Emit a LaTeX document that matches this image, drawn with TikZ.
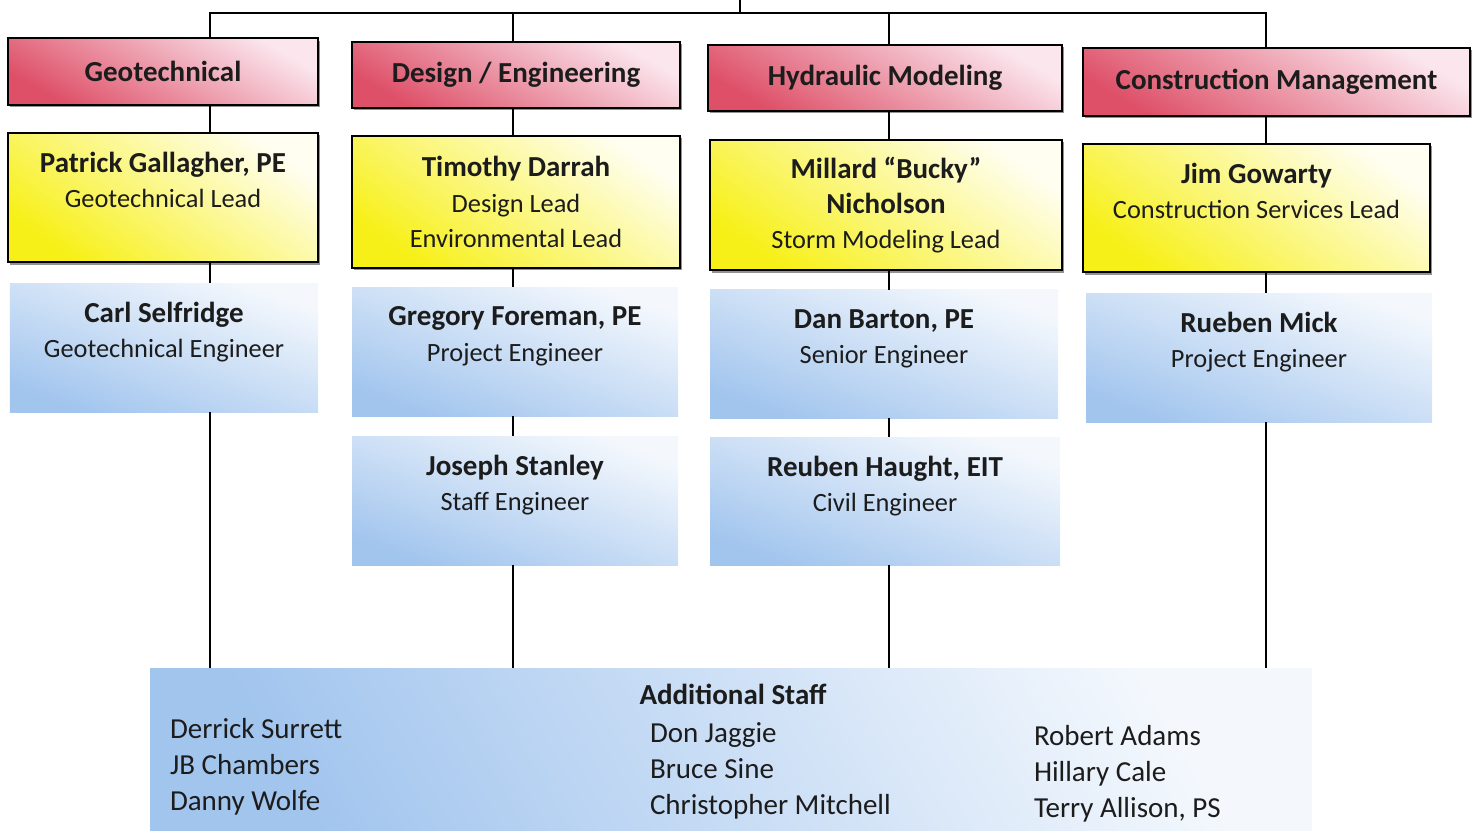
\documentclass[tikz,border=0pt]{standalone}
\usepackage{fontspec}
\setmainfont{Carlito}
\usepackage{tikz}
\usetikzlibrary{calc}
\usetikzlibrary{positioning}
\usetikzlibrary{shadows}
\definecolor{headred}{RGB}{222,80,104}
\definecolor{headpink}{RGB}{251,230,238}
\definecolor{leadyellow}{RGB}{247,240,24}
\definecolor{leadcream}{RGB}{255,254,240}
\definecolor{staffblue}{RGB}{162,197,238}
\definecolor{staffwhite}{RGB}{244,248,253}
\definecolor{inktext}{RGB}{28,28,28}
\newcommand{\nm}[1]{{\fontsize{16.5}{20}\selectfont\bfseries #1}}
\tikzstyle{boxshadow} = [drop shadow={shadow xshift=0.04cm, shadow yshift=-0.05cm, fill=black!85}]
\tikzstyle{headnode} = [draw=black, line width=1.3pt, boxshadow, top color=headpink, bottom color=headred, shading angle=-30, minimum height=1.33cm, align=center, text=inktext, font=\fontsize{16.5}{20}\selectfont\bfseries]
\tikzstyle{leadnode} = [draw=black, line width=1.3pt, boxshadow, top color=leadcream, bottom color=leadyellow, shading angle=-35, minimum height=2.58cm, align=center, text=inktext, font=\fontsize{15}{20}\selectfont]
\tikzstyle{engnode} = [top color=staffwhite, bottom color=staffblue, shading angle=-20, minimum height=2.58cm, align=center, text=inktext, font=\fontsize{15}{20}\selectfont]
\tikzstyle{staffcol} = [anchor=north west, inner sep=0, align=left, text=inktext, font=\fontsize{16.5}{20.4}\selectfont]
\tikzstyle{link} = [line width=1.1pt, black]

\begin{document}
\begin{tikzpicture}
    \useasboundingbox (0,0) rectangle (29.56,-16.66);

    \node[headnode, minimum width=6.2cm] (geo_head) at (3.26,-1.43) {Geotechnical};
    \node[leadnode, minimum width=6.2cm] (geo_lead) at ($(geo_head)+(0,-2.52)$) {\nm{Patrick Gallagher, PE}\\Geotechnical Lead\\\mbox{}};
    \node[engnode, minimum width=6.16cm] (geo_eng) at ($(geo_lead)+(0.02,-3.0)$) {\nm{Carl Selfridge}\\Geotechnical Engineer\\\mbox{}};

    \node[headnode, minimum width=6.56cm, minimum height=1.32cm] (des_head) at (10.32,-1.5) {Design / Engineering};
    \node[leadnode, minimum width=6.56cm, minimum height=2.64cm] (des_lead) at ($(des_head)+(0,-2.54)$) {\nm{Timothy Darrah}\\Design Lead\\Environmental Lead};
    \node[engnode, minimum width=6.52cm] (des_eng) at ($(des_lead)+(-0.02,-2.99)$) {\nm{Gregory Foreman, PE}\\Project Engineer\\\mbox{}};
    \node[engnode, minimum width=6.52cm] (des_staff) at ($(des_eng)+(0,-2.98)$) {\nm{Joseph Stanley}\\Staff Engineer\\\mbox{}};

    \node[headnode, minimum width=7.08cm, minimum height=1.32cm] (hyd_head) at (17.7,-1.56) {Hydraulic Modeling};
    \node[leadnode, minimum width=7.04cm, minimum height=2.6cm] (hyd_lead) at ($(hyd_head)+(0.02,-2.54)$) {\nm{Millard “Bucky”}\\\nm{Nicholson}\\Storm Modeling Lead};
    \node[engnode, minimum width=6.96cm, minimum height=2.56cm] (hyd_eng) at ($(hyd_lead)+(-0.04,-2.98)$) {\nm{Dan Barton, PE}\\Senior Engineer\\\mbox{}};
    \node[engnode, minimum width=7.0cm, minimum height=2.56cm] (hyd_civil) at ($(hyd_eng)+(0.02,-2.94)$) {\nm{Reuben Haught, EIT}\\Civil Engineer\\\mbox{}};

    \node[headnode, minimum width=7.74cm, minimum height=1.36cm] (cm_head) at (25.53,-1.64) {Construction Management};
    \node[leadnode, minimum width=6.94cm, minimum height=2.56cm] (cm_lead) at ($(cm_head)+(-0.4,-2.52)$) {\nm{Jim Gowarty}\\Construction Services Lead\\\mbox{}};
    \node[engnode, minimum width=6.92cm] (cm_eng) at ($(cm_lead)+(0.05,-2.99)$) {\nm{Rueben Mick}\\Project Engineer\\\mbox{}};

    \node[engnode, shading angle=-60, minimum width=23.24cm, minimum height=3.24cm] (add_staff) at (14.62,-14.98) {};
    \node[font=\fontsize{16.5}{20}\selectfont\bfseries, text=inktext] (add_title) at ($(add_staff.north)+(0.04,-0.54)$) {Additional Staff};
    \node[staffcol] (add_col_a) at ($(add_staff.north west)+(0.4,-1.01)$) {Derrick Surrett\\JB Chambers\\Danny Wolfe};
    \node[staffcol] (add_col_b) at ($(add_staff.north west)+(10.0,-1.09)$) {Don Jaggie\\Bruce Sine\\Christopher Mitchell};
    \node[staffcol] (add_col_c) at ($(add_staff.north west)+(17.68,-1.15)$) {Robert Adams\\Hillary Cale\\Terry Allison, PS};

    \coordinate (top_in) at (14.8,0);
    \coordinate (top_bar) at (14.8,-0.26);
    \coordinate (geo_x) at (4.2,0);
    \coordinate (des_x) at (10.26,0);
    \coordinate (hyd_x) at (17.78,0);
    \coordinate (cm_x) at (25.32,0);

    \draw[link] (top_in) -- (top_bar);
    \draw[link] (geo_x |- geo_head.north) |- (top_bar) -| (cm_x |- cm_head.north);
    \draw[link] (des_x |- top_bar) -- (des_x |- des_head.north);
    \draw[link] (hyd_x |- top_bar) -- (hyd_x |- hyd_head.north);

    \draw[link] (geo_x |- geo_head.south) -- (geo_x |- geo_lead.north);
    \draw[link] (geo_x |- geo_lead.south) -- (geo_x |- geo_eng.north);
    \draw[link] (geo_x |- geo_eng.south) -- (geo_x |- add_staff.north);

    \draw[link] (des_x |- des_head.south) -- (des_x |- des_lead.north);
    \draw[link] (des_x |- des_lead.south) -- (des_x |- des_eng.north);
    \draw[link] (des_x |- des_eng.south) -- (des_x |- des_staff.north);
    \draw[link] (des_x |- des_staff.south) -- (des_x |- add_staff.north);

    \draw[link] (hyd_x |- hyd_head.south) -- (hyd_x |- hyd_lead.north);
    \draw[link] (hyd_x |- hyd_lead.south) -- (hyd_x |- hyd_eng.north);
    \draw[link] (hyd_x |- hyd_eng.south) -- (hyd_x |- hyd_civil.north);
    \draw[link] (hyd_x |- hyd_civil.south) -- (hyd_x |- add_staff.north);

    \draw[link] (cm_x |- cm_head.south) -- (cm_x |- cm_lead.north);
    \draw[link] (cm_x |- cm_lead.south) -- (cm_x |- cm_eng.north);
    \draw[link] (cm_x |- cm_eng.south) -- (cm_x |- add_staff.north);
\end{tikzpicture}
\end{document}
